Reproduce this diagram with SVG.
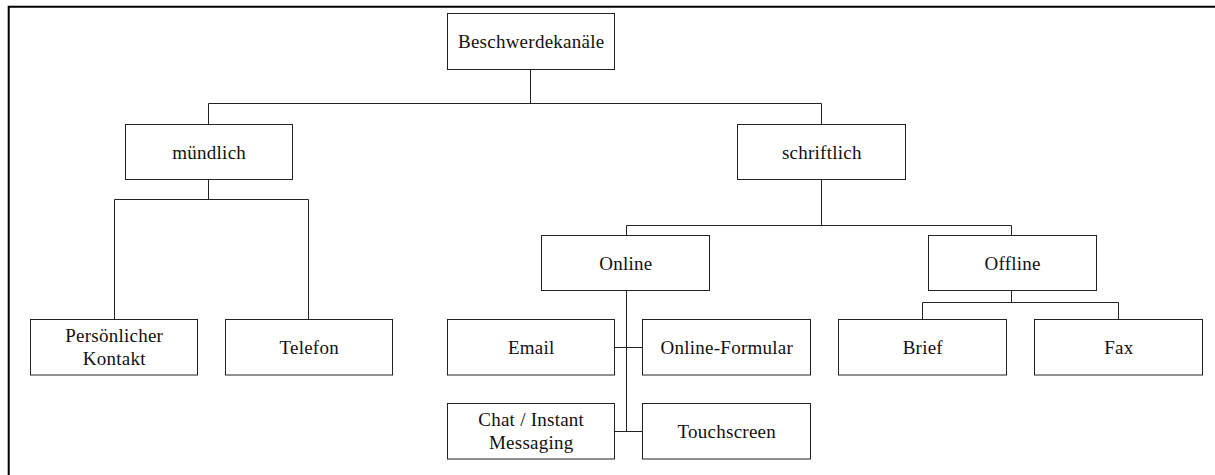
<svg xmlns="http://www.w3.org/2000/svg" width="1215" height="475" viewBox="0 0 1215 475">
<style>
.box{fill:#fff;stroke:#222;stroke-width:1}
.lbl{font-family:"Liberation Serif","Times New Roman",serif;font-size:19px;letter-spacing:0.25px;fill:#111;text-anchor:middle}
.con{fill:none;stroke:#222;stroke-width:1}
.frame{fill:none;stroke:#000;stroke-width:2}
</style>
<rect width="1215" height="475" fill="#fff"/>
<path class="frame" d="M8.7,475 V6.7 H1215"/>
<g id="connectors">
<path class="con" d="M530.5,69.5 V103.5 M208.5,124.5 V103.5 H821.5 V124.5"/>
<path class="con" d="M208.5,179.5 V199.5 M114.5,319.5 V199.5 H308.5 V319.5"/>
<path class="con" d="M821.5,179.5 V225.5 M626.5,235.5 V225.5 H1011.5 V235.5"/>
<path class="con" d="M626.5,290.5 V431.5 M614.5,347.5 H642.5 M614.5,431.5 H642.5"/>
<path class="con" d="M1011.5,290.5 V302.5 M922.5,319.5 V302.5 H1118.5 V319.5"/>
</g>
<g id="root"><rect class="box" x="447.5" y="13.5" width="167" height="56"/><text class="lbl" x="531.2" y="48">Beschwerdekanäle</text></g>
<g id="muendlich"><rect class="box" x="125.5" y="124.5" width="167" height="55"/><text class="lbl" x="209.2" y="158.5">mündlich</text></g>
<g id="schriftlich"><rect class="box" x="737.5" y="124.5" width="168" height="55"/><text class="lbl" x="821.8" y="158.5">schriftlich</text></g>
<g id="persoenlich"><rect class="box" x="30.5" y="319.5" width="167" height="55.5"/><text class="lbl" x="114.2" y="342.3">Persönlicher</text><text class="lbl" x="114.2" y="365">Kontakt</text></g>
<g id="telefon"><rect class="box" x="225.5" y="319.5" width="167" height="55.5"/><text class="lbl" x="309.2" y="353.5">Telefon</text></g>
<g id="online"><rect class="box" x="541.5" y="235.5" width="168" height="55"/><text class="lbl" x="625.8" y="269.5">Online</text></g>
<g id="offline"><rect class="box" x="928.5" y="235.5" width="168" height="55"/><text class="lbl" x="1012.6" y="269.5">Offline</text></g>
<g id="email"><rect class="box" x="447.5" y="319.5" width="167" height="55.5"/><text class="lbl" x="531.2" y="353.5">Email</text></g>
<g id="formular"><rect class="box" x="642.5" y="319.5" width="168" height="55.5"/><text class="lbl" x="726.8" y="353.5">Online-Formular</text></g>
<g id="brief"><rect class="box" x="838.5" y="319.5" width="168" height="55.5"/><text class="lbl" x="922.8" y="353.5">Brief</text></g>
<g id="fax"><rect class="box" x="1034.5" y="319.5" width="168" height="55.5"/><text class="lbl" x="1118.8" y="353.5">Fax</text></g>
<g id="chat"><rect class="box" x="447.5" y="403.5" width="167" height="55.5"/><text class="lbl" x="531.2" y="425.5">Chat / Instant</text><text class="lbl" x="531.2" y="448.5">Messaging</text></g>
<g id="touchscreen"><rect class="box" x="642.5" y="403.5" width="168" height="55.5"/><text class="lbl" x="726.8" y="437.5">Touchscreen</text></g>
</svg>
